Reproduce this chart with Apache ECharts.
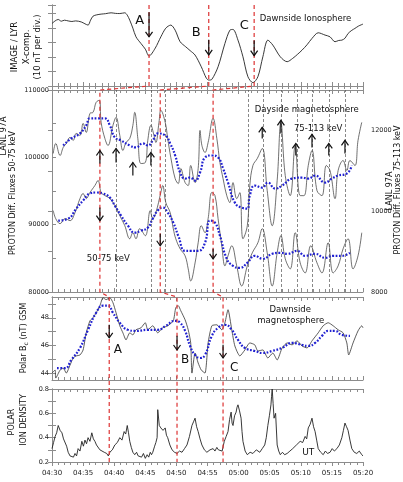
<!DOCTYPE html>
<html>
<head>
<meta charset="utf-8">
<script src="https://cdn.jsdelivr.net/npm/echarts@6.0.0/dist/echarts.min.js"></script>
<style>
html, body { margin: 0; padding: 0; background: #fff; }
#chart { width: 403px; height: 482px; }
</style>
</head>
<body>
<div id="chart"></div>
<script>
// time is minutes after 04:30 UT
// panel 1: IMAGE / LYR X-component (divisions of 10 nT)
const ionoData = [[0,4.32],[0.5,4.50],[1.0,4.60],[1.5,4.48],[2.0,4.55],[2.6,4.50],[3.2,4.46],[3.8,4.50],[4.7,4.43],[5.3,4.30],[5.8,4.21],[6.2,4.55],[6.6,4.83],[7.2,4.92],[7.9,4.97],[8.6,5.00],[9.5,5.06],[10.2,5.02],[10.9,5.01],[11.7,5.06],[12.1,4.90],[12.5,4.55],[13.0,4.00],[13.5,3.40],[14.3,2.94],[15.0,2.55],[15.6,2.07],[16.6,2.62],[17.5,3.40],[18.3,4.00],[19.1,4.21],[19.8,3.86],[20.6,3.06],[21.5,2.71],[22.2,2.45],[23.0,2.14],[24.0,1.33],[24.8,0.55],[25.2,0.41],[25.7,0.46],[26.7,1.33],[27.8,2.94],[28.6,3.86],[29.1,3.91],[29.9,3.17],[30.7,2.02],[31.5,0.64],[32.3,0.23],[33.1,0.64],[33.9,2.02],[34.7,3.17],[35.5,2.83],[36.7,2.02],[37.8,1.68],[38.7,1.91],[39.5,2.20],[40.2,2.48],[41.0,2.85],[41.8,3.29],[42.8,3.68],[43.9,3.52],[44.7,3.40],[45.5,3.06],[46.1,3.15],[46.6,3.17],[47.1,3.30],[47.6,3.63],[48.2,3.85],[48.7,3.98],[49.3,4.15],[50.0,4.28]];

// panel 2: LANL 97A proton fluxes, 75-113 keV (right axis)
const fluxHighRaw = [[0.2,11429],[0.6,11677],[1.3,11379],[1.8,11578],[2.3,11677],[2.9,11826],[3.4,11752],[3.9,11925],[4.5,11876],[5.0,12174],[5.5,11950],[6.1,12422],[6.6,12447],[7.1,12696],[7.6,12745],[7.9,12199],[8.5,11801],[9.0,11627],[9.8,12124],[10.3,12323],[10.9,11876],[11.4,11503],[11.9,11702],[12.5,11801],[13.0,12124],[13.3,12447],[13.8,11801],[14.3,11180],[15.0,11205],[15.4,11752],[15.9,12124],[16.4,11876],[16.7,11702],[17.2,12199],[17.5,12497],[18.2,12199],[18.6,11801],[19.1,11329],[19.8,10808],[20.3,10683],[20.7,11056],[21.4,10708],[21.9,10634],[22.3,11131],[23.0,10708],[23.5,11056],[23.8,12000],[24.1,11627],[24.6,11454],[25.1,11702],[25.9,12298],[26.5,11801],[27.0,11205],[27.5,10808],[28.1,10385],[28.6,10212],[29.1,10708],[29.7,10311],[30.2,10460],[30.7,9317],[31.4,9640],[31.8,10634],[32.3,11131],[33.0,11304],[33.8,11553],[34.6,10510],[35.4,9640],[36.2,10758],[36.8,12199],[37.5,10882],[38.3,10385],[39.1,11627],[39.9,10385],[40.5,10385],[41.2,11131],[41.8,11503],[42.6,10510],[43.4,10385],[44.1,11131],[44.7,11006],[45.5,10311],[46.0,11006],[46.8,11255],[47.4,11006],[47.9,11255],[48.7,11131],[49.2,11752],[49.8,12199]];
const fluxHighSmooth = [[1.8,11627],[3.1,11801],[4.5,11925],[5.5,12124],[6.1,12298],[7.4,12298],[8.5,12298],[9.3,12124],[10.1,11826],[11.1,11752],[12.5,11627],[13.5,11578],[14.6,11677],[15.4,11627],[16.2,11752],[17.0,11925],[18.2,11876],[19.0,11677],[19.8,11379],[20.6,10957],[21.4,10808],[22.2,10833],[23.0,10758],[23.8,10957],[24.6,11329],[25.7,11379],[26.7,11329],[27.5,11056],[28.3,10708],[29.4,10212],[30.5,10087],[31.4,10062],[31.8,10385],[32.6,10634],[33.8,10584],[34.7,10708],[35.9,10559],[37.0,10634],[38.6,10808],[40.2,10832],[41.2,10808],[42.3,10882],[43.9,10708],[45.0,10808],[46.0,10882],[47.4,10932],[48.2,11131]];

// panel 2: 50-75 keV (left axis)
const fluxLowRaw = [[0.2,92090],[0.6,90896],[1.3,90150],[2.1,90896],[2.9,90597],[3.7,91791],[4.5,93881],[5.0,94627],[5.5,93881],[6.1,94776],[6.9,95821],[7.4,96567],[7.9,94776],[8.5,94329],[9.3,93881],[10.1,92836],[10.9,91343],[11.7,89851],[12.5,87910],[13.0,88806],[13.5,87910],[14.1,89403],[15.0,88358],[15.8,92090],[16.2,90896],[16.7,91791],[17.5,94776],[17.8,95821],[18.3,93284],[19.0,91791],[19.5,89403],[19.9,87910],[20.6,86418],[21.4,85373],[21.9,83433],[22.3,81642],[23.0,84313],[23.5,87313],[24.0,89851],[24.6,88806],[25.1,90896],[25.7,94776],[26.2,94329],[26.7,90896],[27.3,86866],[27.8,83881],[28.3,85373],[28.9,86866],[29.7,83881],[30.5,80896],[31.4,83881],[32.2,85821],[33.1,87313],[33.8,89403],[34.6,85821],[35.4,80896],[36.2,85821],[36.8,88358],[37.5,84925],[38.3,83433],[39.1,88806],[39.9,84329],[40.7,82836],[41.6,86866],[42.6,84329],[43.4,82836],[44.4,87313],[45.2,82836],[46.0,83881],[46.8,86418],[47.6,87910],[48.4,83433],[49.2,85373],[49.8,88806]];
const fluxLowSmooth = [[1.0,90597],[2.6,90896],[3.9,92388],[5.0,93582],[6.1,94627],[7.1,94776],[8.2,94627],[9.3,94030],[10.1,92836],[11.1,91343],[12.2,89851],[13.3,88806],[14.3,89105],[15.4,89552],[16.2,90896],[17.0,92090],[17.8,92537],[18.6,91791],[19.5,90299],[20.3,88358],[21.4,86119],[22.3,86119],[23.5,86119],[24.6,87313],[25.4,90597],[26.2,90299],[27.0,88358],[28.1,84925],[29.1,83881],[30.2,83582],[31.4,84328],[32.6,85373],[33.9,84925],[35.4,85672],[36.7,85821],[37.9,85672],[39.4,86119],[40.7,85373],[42.3,85672],[43.9,85075],[45.2,85373],[46.6,85373],[47.9,85821]];

// panel 3: Polar Bc (nT)
const bcRaw = [[0.0,44.0],[0.5,44.22],[0.6,43.64],[1.3,44.22],[1.8,44.36],[2.3,44.0],[2.9,44.58],[3.4,45.09],[3.9,45.24],[4.5,45.31],[5.0,45.67],[5.5,46.91],[6.1,47.78],[6.6,48.0],[7.1,48.36],[7.7,48.87],[8.2,49.45],[8.7,49.31],[9.3,49.45],[9.8,49.09],[10.3,48.36],[10.9,47.42],[11.4,46.91],[11.9,46.4],[12.5,46.91],[13.0,46.76],[13.5,47.13],[14.3,47.27],[15.0,47.64],[15.4,47.13],[16.2,47.42],[17.0,46.91],[17.8,47.27],[18.6,47.42],[19.5,47.78],[19.9,48.73],[20.3,48.87],[20.7,48.51],[21.4,47.85],[21.9,47.13],[22.3,46.18],[22.5,44.0],[23.0,45.45],[23.5,44.73],[24.0,44.22],[24.6,44.0],[25.1,46.18],[25.7,47.42],[26.5,47.49],[27.3,47.13],[27.8,47.64],[28.3,48.58],[28.9,47.13],[29.4,45.96],[30.2,45.24],[31.0,45.67],[31.8,46.18],[32.6,46.04],[33.1,45.6],[33.9,45.67],[34.7,45.09],[35.5,45.45],[36.2,44.95],[37.0,45.82],[37.8,46.18],[38.6,46.04],[39.4,46.33],[40.2,45.96],[41.0,45.82],[41.8,46.33],[42.8,46.91],[43.6,47.42],[44.4,47.64],[45.2,47.42],[46.0,47.13],[46.8,46.91],[47.4,46.18],[47.7,45.31],[48.4,46.18],[49.2,47.05],[49.8,47.42],[50.0,47.27]];
const bcSmooth = [[0.8,44.36],[2.1,44.36],[3.1,44.95],[4.5,45.82],[5.8,47.13],[7.1,48.36],[8.2,48.87],[9.0,48.87],[9.8,48.36],[10.9,47.64],[12.2,47.13],[13.5,47.05],[15.4,47.13],[17.0,47.13],[18.3,47.42],[19.8,47.78],[20.6,47.64],[21.4,47.05],[22.2,45.96],[23.0,45.31],[23.8,45.09],[24.6,45.31],[25.7,46.69],[26.7,47.27],[27.8,47.49],[28.9,47.13],[29.9,46.4],[31.0,45.82],[32.6,45.6],[33.9,45.45],[35.4,45.6],[37.0,45.82],[38.6,46.18],[40.2,46.04],[41.2,45.96],[42.3,46.18],[43.4,46.69],[44.4,47.05],[45.5,47.05],[46.6,46.76],[47.9,46.69]];

// panel 4: Polar ion density
const densityData = [[0,0.31],[0.25,0.36],[0.5,0.41],[0.75,0.44],[1.0,0.50],[1.3,0.46],[1.6,0.44],[1.85,0.39],[2.1,0.40],[2.35,0.33],[2.6,0.28],[2.9,0.25],[3.2,0.26],[3.45,0.24],[3.7,0.27],[3.95,0.25],[4.2,0.31],[4.5,0.29],[4.8,0.37],[5.05,0.33],[5.3,0.38],[5.55,0.35],[5.8,0.40],[6.1,0.37],[6.4,0.44],[6.65,0.39],[6.9,0.37],[7.15,0.34],[7.4,0.34],[7.7,0.30],[8.0,0.31],[8.4,0.28],[8.8,0.27],[9.05,0.25],[9.3,0.28],[9.7,0.30],[10.1,0.34],[10.5,0.36],[10.9,0.40],[11.25,0.38],[11.6,0.45],[11.85,0.43],[12.1,0.50],[12.3,0.44],[12.5,0.37],[12.75,0.32],[13.0,0.28],[13.3,0.26],[13.6,0.28],[13.85,0.25],[14.1,0.26],[14.4,0.24],[14.7,0.27],[15.0,0.23],[15.3,0.26],[15.55,0.24],[15.8,0.28],[16.0,0.26],[16.2,0.28],[16.5,0.33],[16.7,0.36],[16.9,0.40],[17.0,0.63],[17.25,0.50],[17.5,0.48],[17.85,0.46],[18.2,0.48],[18.4,0.42],[18.6,0.40],[18.95,0.34],[19.3,0.30],[19.7,0.28],[20.1,0.27],[20.5,0.29],[20.9,0.28],[21.3,0.31],[21.7,0.34],[22.1,0.41],[22.5,0.50],[22.75,0.53],[23.0,0.56],[23.25,0.49],[23.5,0.45],[23.8,0.39],[24.1,0.34],[24.5,0.30],[24.9,0.28],[25.4,0.30],[25.9,0.31],[26.2,0.29],[26.5,0.32],[26.75,0.30],[27.0,0.31],[27.35,0.29],[27.7,0.37],[28.0,0.41],[28.3,0.45],[28.55,0.55],[28.8,0.61],[28.95,0.52],[29.1,0.50],[29.35,0.58],[29.6,0.61],[29.75,0.65],[29.9,0.67],[30.15,0.62],[30.4,0.56],[30.55,0.45],[30.7,0.37],[31.05,0.29],[31.4,0.26],[31.85,0.28],[32.3,0.27],[32.85,0.30],[33.4,0.28],[33.8,0.31],[34.2,0.34],[34.45,0.40],[34.7,0.50],[34.95,0.58],[35.2,0.67],[35.3,0.74],[35.4,0.80],[35.55,0.68],[35.7,0.56],[35.95,0.60],[36.2,0.34],[36.45,0.29],[36.7,0.26],[37.05,0.28],[37.4,0.26],[37.8,0.27],[38.25,0.29],[38.7,0.31],[39.0,0.30],[39.3,0.34],[39.6,0.33],[39.9,0.37],[40.3,0.36],[40.7,0.41],[40.95,0.39],[41.2,0.48],[41.5,0.51],[41.8,0.56],[42.05,0.49],[42.3,0.45],[42.55,0.38],[42.8,0.31],[43.2,0.28],[43.6,0.26],[43.95,0.29],[44.3,0.27],[44.7,0.28],[45.05,0.31],[45.4,0.29],[45.8,0.31],[46.2,0.34],[46.6,0.40],[46.85,0.46],[47.1,0.52],[47.35,0.49],[47.6,0.46],[47.9,0.38],[48.2,0.31],[48.6,0.28],[49.0,0.27],[49.4,0.29],[49.8,0.26],[50.0,0.25]];

// event times A, B, C in each panel
const ionoEvents = [15.6, 25.2, 32.5];
const fluxEvents = [7.7, 17.4, 25.9];
const polarEvents = [9.2, 20.1, 27.5];
const fluxMarks = [10.3, 15.9, 18.2, 31.5, 33.9, 36.8, 39.4, 41.8, 44.5, 47.1];

// arrows: [time, from, to]
const ionoArrows = [[15.6, 5.1, 3.4], [25.2, 3.2, 2.15], [32.5, 3.15, 2.1]];
const fluxUpArrows = [[7.7,11180,11503],[10.3,11205,11553],[13.0,10882,11205],[15.9,11131,11454],[33.8,11801,12075],[36.8,11925,12248],[39.2,11379,11677],[41.8,11578,11901],[44.5,11379,11677],[47.1,11429,11752]];
const fluxDownArrows = [[7.7,92537,90597],[17.4,88657,86866],[25.9,86418,84925]];
const polarArrows = [[9.2,47.49,46.55],[20.1,46.69,45.67],[27.5,46.04,45.09]];
const ionoLabels = [['A',14.1,4.55],['B',23.2,3.72],['C',30.9,4.2]];
const polarLabels = [['A',10.6,45.67],['B',21.4,44.95],['C',29.3,44.36]];

const FONT = '"DejaVu Sans", Verdana, sans-serif';
const AX = '#8c8c8c';
const RED = '#dd3333';
const BLUE = '#2020d0';

const fmtTime = function (m) {
  const tot = 270 + Math.round(m);
  const h = Math.floor(tot / 60), mm = tot % 60;
  return '0' + h + ':' + String(mm).padStart(2, '0');
};

function timeAxis(gridIndex, position, showLabel) {
  return {
    type: 'value', gridIndex: gridIndex, position: position,
    min: 0, max: 50, interval: 5,
    axisLine: { show: true, lineStyle: { color: AX, width: 1 } },
    axisTick: { show: true, inside: !showLabel, length: 4, lineStyle: { color: AX } },
    minorTick: { show: true, splitNumber: 5, length: 3, lineStyle: { color: AX } },
    axisLabel: { show: showLabel, formatter: fmtTime, fontSize: 7, color: '#222', margin: 8, fontFamily: FONT },
    splitLine: { show: false }
  };
}

function valueAxis(gridIndex, position, cfg) {
  return Object.assign({
    type: 'value', gridIndex: gridIndex, position: position,
    axisLine: { show: true, lineStyle: { color: AX, width: 1 } },
    axisTick: { show: true, inside: true, length: 4, lineStyle: { color: AX } },
    splitLine: { show: false }
  }, cfg);
}

const lbl = (extra) => Object.assign({ fontSize: 6.5, color: '#222', fontFamily: FONT, margin: 3 }, extra);

const option = {
  animation: false,
  backgroundColor: '#fff',
  grid: [
    { left: 52, right: 40, top: 5, height: 81 },
    { left: 52, right: 40, top: 90, height: 202 },
    { left: 52, right: 40, top: 297, height: 83 },
    { left: 52, right: 40, top: 389, height: 73 }
  ],
  xAxis: [
    timeAxis(0, 'bottom', false), timeAxis(0, 'top', false),
    timeAxis(1, 'bottom', false), timeAxis(1, 'top', false),
    timeAxis(2, 'bottom', false), timeAxis(2, 'top', false),
    timeAxis(3, 'bottom', true), timeAxis(3, 'top', false)
  ],
  yAxis: [
    valueAxis(0, 'left', { min: 0, max: 5.6, interval: 1, axisLabel: { show: false } }),
    valueAxis(0, 'right', { min: 0, max: 5.6, interval: 1, axisLabel: { show: false } }),
    valueAxis(1, 'left', { min: 80000, max: 110000, interval: 5000,
      axisLabel: lbl({ formatter: v => (v % 10000 === 0 ? String(v) : '') }) }),
    valueAxis(1, 'right', { min: 8000, max: 13000, interval: 1000,
      axisLabel: lbl({ margin: 8, formatter: v => (v % 2000 === 0 ? String(v) : '') }) }),
    valueAxis(2, 'left', { min: 43.5, max: 49.5,
      axisTick: { show: true, inside: true, length: 4, lineStyle: { color: AX }, customValues: [44, 45, 46, 47, 48, 49] },
      axisLabel: lbl({ customValues: [44, 46, 48] }) }),
    valueAxis(2, 'right', { min: 43.5, max: 49.5,
      axisTick: { show: true, inside: true, length: 4, lineStyle: { color: AX }, customValues: [44, 45, 46, 47, 48, 49] },
      axisLabel: { show: false } }),
    valueAxis(3, 'left', { min: 0.2, max: 0.8, interval: 0.1,
      axisLabel: lbl({ formatter: v => { const k = Math.round(v * 10); return k % 2 === 0 ? (k / 10).toFixed(1) : ''; } }) }),
    valueAxis(3, 'right', { min: 0.2, max: 0.8, interval: 0.1, axisLabel: { show: false } })
  ],
  series: [
    { type: 'line', name: 'IMAGE LYR', xAxisIndex: 0, yAxisIndex: 0, data: ionoData, smooth: 0.3,
      symbol: 'none', lineStyle: { color: '#222', width: 0.9 } },
    { type: 'line', name: '75-113 keV', xAxisIndex: 2, yAxisIndex: 3, data: fluxHighRaw, smooth: 0.4,
      symbol: 'none', lineStyle: { color: '#333', width: 0.7 },
      markLine: { silent: true, symbol: 'none', label: { show: false },
        lineStyle: { color: '#555', width: 0.7, type: [3, 2] },
        data: fluxMarks.map(t => ({ xAxis: t })) } },
    { type: 'line', name: '75-113 keV avg', xAxisIndex: 2, yAxisIndex: 3, data: fluxHighSmooth, smooth: true,
      symbol: 'none', lineStyle: { color: BLUE, width: 2.2, type: [1.8, 1.6] } },
    { type: 'line', name: '50-75 keV', xAxisIndex: 2, yAxisIndex: 2, data: fluxLowRaw, smooth: 0.4,
      symbol: 'none', lineStyle: { color: '#333', width: 0.7 } },
    { type: 'line', name: '50-75 keV avg', xAxisIndex: 2, yAxisIndex: 2, data: fluxLowSmooth, smooth: true,
      symbol: 'none', lineStyle: { color: BLUE, width: 2.2, type: [1.8, 1.6] } },
    { type: 'line', name: 'Bc', xAxisIndex: 4, yAxisIndex: 4, data: bcRaw, smooth: 0.2,
      symbol: 'none', lineStyle: { color: '#333', width: 0.8 } },
    { type: 'line', name: 'Bc avg', xAxisIndex: 4, yAxisIndex: 4, data: bcSmooth, smooth: true,
      symbol: 'none', lineStyle: { color: BLUE, width: 2.2, type: [1.8, 1.6] } },
    { type: 'line', name: 'density', xAxisIndex: 6, yAxisIndex: 6, data: densityData,
      symbol: 'none', lineStyle: { color: '#222', width: 0.9 } }
  ]
};

const chart = echarts.init(document.getElementById('chart'));
chart.setOption(option);

const px = (xi, yi, t, v) => chart.convertToPixel({ xAxisIndex: xi, yAxisIndex: yi }, [t, v]);

function arrow(p0, p1) {
  const dir = p1[1] > p0[1] ? 1 : -1;
  return [
    { type: 'line', z: 60, shape: { x1: p0[0], y1: p0[1], x2: p1[0], y2: p1[1] },
      style: { stroke: '#111', lineWidth: 1.2 } },
    { type: 'polyline', z: 60,
      shape: { points: [[p1[0] - 3.5, p1[1] - 5 * dir], [p1[0], p1[1]], [p1[0] + 3.5, p1[1] - 5 * dir]] },
      style: { stroke: '#111', lineWidth: 1.2, fill: null } }
  ];
}

function text(str, p, size, align, rotate) {
  return {
    type: 'text', z: 70, x: p[0], y: p[1], rotation: rotate ? Math.PI / 2 : 0,
    style: { text: str, fill: '#111', fontSize: size, fontFamily: FONT,
      align: align || 'center', verticalAlign: 'middle',
      textAlign: align || 'center', textVerticalAlign: 'middle' }
  };
}

const g = [];

// red dashed event lines linking the panels
[0, 1, 2].forEach(i => {
  const pts = [
    px(0, 0, ionoEvents[i], 5.6), px(0, 0, ionoEvents[i], 0),
    px(2, 2, fluxEvents[i], 110000), px(2, 2, fluxEvents[i], 80000),
    px(4, 4, polarEvents[i], 49.5), px(6, 6, polarEvents[i], 0.2)
  ];
  g.push({ type: 'polyline', z: 50, shape: { points: pts },
    style: { stroke: RED, lineWidth: 1.2, lineDash: [4, 3], fill: null } });
});

ionoArrows.forEach(a => g.push(...arrow(px(0, 0, a[0], a[1]), px(0, 0, a[0], a[2]))));
fluxUpArrows.forEach(a => g.push(...arrow(px(2, 3, a[0], a[1]), px(2, 3, a[0], a[2]))));
fluxDownArrows.forEach(a => g.push(...arrow(px(2, 2, a[0], a[1]), px(2, 2, a[0], a[2]))));
polarArrows.forEach(a => g.push(...arrow(px(4, 4, a[0], a[1]), px(4, 4, a[0], a[2]))));

ionoLabels.forEach(l => g.push(text(l[0], px(0, 0, l[1], l[2]), 13)));
polarLabels.forEach(l => g.push(text(l[0], px(4, 4, l[1], l[2]), 12)));

g.push(text('Dawnside Ionosphere', px(0, 0, 33.4, 4.62), 8.5, 'left'));
g.push(text('Dayside magnetosphere', px(2, 3, 32.6, 12522), 8.5, 'left'));
g.push(text('75-113 keV', px(2, 3, 38.9, 12050), 8.5, 'left'));
g.push(text('50-75 keV', px(2, 2, 5.6, 84925), 8.5, 'left'));
g.push(text('Dawnside', px(4, 4, 38.3, 48.58), 8.5));
g.push(text('magnetosphere', px(4, 4, 38.4, 47.78), 8.5));
g.push(text('UT', px(6, 6, 41.2, 0.274), 9));

// axis titles
g.push(text('IMAGE / LYR', [15, 47], 8.5, 'center', true));
g.push(text('X-comp.', [27, 47], 8.5, 'center', true));
g.push(text('(10 nT per div.)', [38, 47], 8.5, 'center', true));
g.push(text('LANL 97A', [4, 136], 8, 'center', true));
g.push(text('PROTON Diff. Fluxes 50-75 keV', [13, 193], 8, 'center', true));
g.push(text('LANL 97A', [390, 191], 8, 'center', true));
g.push(text('PROTON Diff. Fluxes 75-113 keV', [398, 190], 8, 'center', true));
g.push({
  type: 'text', z: 70, x: 24, y: 338, rotation: Math.PI / 2,
  style: {
    text: '{a|Polar B}{s|c}{a| (nT) GSM}', fill: '#111', fontFamily: FONT,
    align: 'center', verticalAlign: 'middle', textAlign: 'center', textVerticalAlign: 'middle',
    rich: { a: { fontSize: 8, fontFamily: FONT }, s: { fontSize: 6, fontFamily: FONT, verticalAlign: 'bottom', padding: [4, 0, 0, 0] } }
  }
});
g.push(text('POLAR', [12, 422], 8, 'center', true));
g.push(text('ION DENSITY', [24, 420], 8, 'center', true));

chart.setOption({ graphic: g });
</script>
</body>
</html>
